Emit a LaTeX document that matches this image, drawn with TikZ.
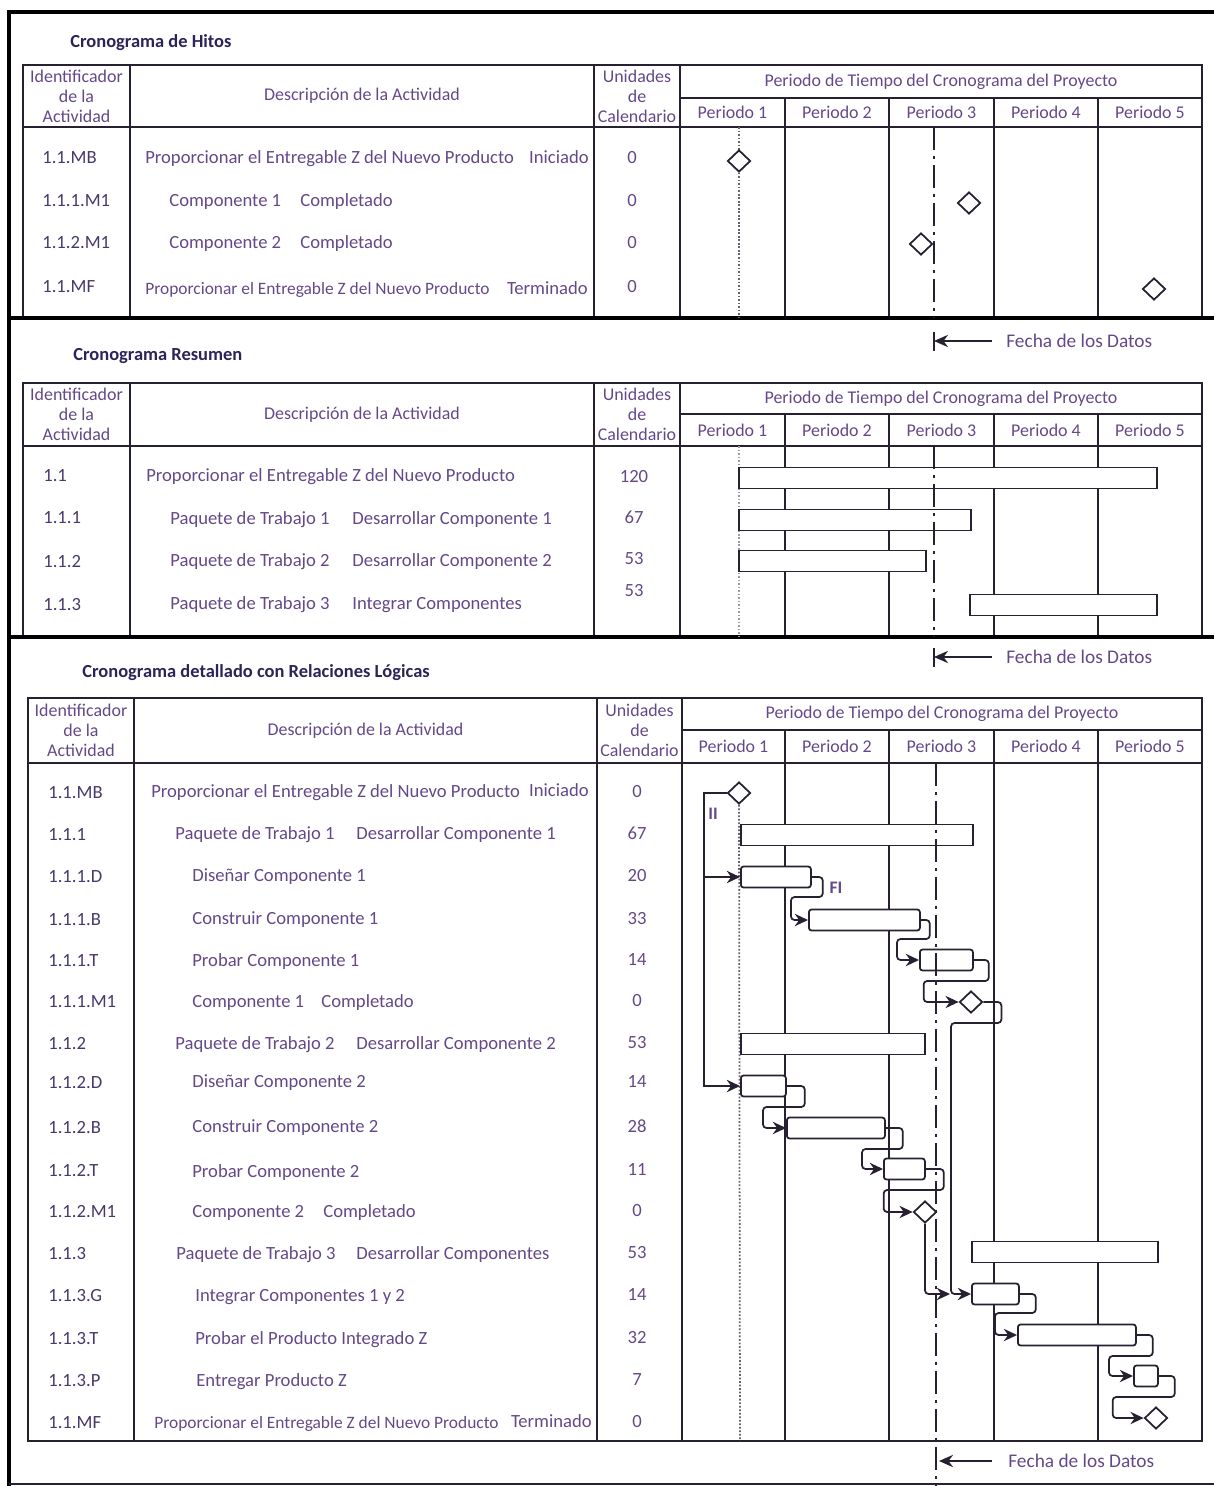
\documentclass[tikz,border=0pt]{standalone}
\usepackage{fontspec}
\setmainfont{Carlito}
\usetikzlibrary{arrows.meta,shapes.geometric,positioning,calc}
\definecolor{tinta}{RGB}{100,72,136}
\definecolor{tintaid}{RGB}{72,56,108}
\definecolor{titulo}{RGB}{42,36,88}
\definecolor{linea}{RGB}{38,32,48}
\tikzset{
	txt/.style={text=tinta, inner sep=0pt, font=\fontsize{10.6}{12.5}\selectfont},
	lin/.style={txt, text height=7.4pt, text depth=2pt},
	ide/.style={lin, text=tintaid, anchor=west},
	des/.style={lin, anchor=west},
	fin/.style={lin, anchor=east},
	uni/.style={lin},
	cab/.style={txt, align=center, font=\fontsize{10.2}{11.3}\selectfont},
	tit/.style={text=titulo, inner sep=0pt, anchor=west, font=\fontsize{10.5}{12}\selectfont\bfseries},
	nota/.style={txt, anchor=west, font=\fontsize{11}{13}\selectfont},
	largo/.style={minimum width=#1*0.02cm},
	barra/.style={draw=linea, line width=1pt, fill=white, inner sep=0pt, minimum height=0.42cm, anchor=west},
	caja/.style={barra, rounded corners=1.5pt},
	hito/.style={diamond, draw=linea, line width=1pt, fill=white, inner sep=0pt, minimum width=0.46cm, minimum height=0.44cm},
	liga/.style={draw=linea, line width=1pt, rounded corners=2pt, -{Stealth[length=7.5pt,width=7pt]}},
	flecha/.style={draw=linea, line width=1pt, -{Stealth[length=8pt,width=7pt]}},
	fecha/.style={draw=linea, line width=1.1pt, dash pattern=on 0.46cm off 0.12cm on 0.06cm off 0.12cm},
	puntos/.style={draw=linea!70, line width=1pt, densely dotted},
	rejilla/.style={draw=linea, line width=1.1pt},
	marco/.style={draw=black, line width=2.8pt}
}
\begin{document}
\begin{tikzpicture}[x=0.02cm,y=-0.02cm]
	\useasboundingbox (0,0) rectangle (1214,1486);
	\foreach \s/\arr/\sep/\hab/\aba/\ca/\cb/\cc/\cd in {1/65/98/127/318/23/130/594/680, 2/383/414/446/637/23/130/594/680, 3/698/730/763/1441/28/134/597/682}{
		\draw[rejilla] (\ca,\arr) rectangle (1202,\aba);
		\draw[rejilla] (\ca,\hab) -- (1202,\hab);
		\draw[rejilla] (\cd,\sep) -- (1202,\sep);
		\foreach \c in {\cb,\cc,\cd} \draw[rejilla] (\c,\arr) -- (\c,\aba);
		\foreach \c in {785,889,994,1098} \draw[rejilla] (\c,\sep) -- (\c,\aba);
		\node[cab] (cid\s) at ({(\ca+\cb)/2},{(\arr+\hab)/2}) {Identificador\\de la\\Actividad};
		\node[cab] (cde\s) at ({(\cb+\cc)/2},{(\arr+\hab)/2}) {Descripción de la Actividad};
		\node[cab] (cun\s) at ({(\cc+\cd)/2},{(\arr+\hab)/2}) {Unidades\\de\\Calendario};
		\node[cab] (cpe\s) at ({(\cd+1202)/2},{(\arr+\sep)/2}) {Periodo de Tiempo del Cronograma del Proyecto};
		\foreach \p/\xa/\xb in {1/\cd/785, 2/785/889, 3/889/994, 4/994/1098, 5/1098/1202}
			\node[cab] (per\s\p) at ({(\xa+\xb)/2},{(\sep+\hab)/2}) {Periodo \p};
	}
	\draw[marco] (1214,12) -- (9,12) -- (9,1486);
	\draw[marco] (9,318) -- (1214,318);
	\draw[marco] (9,637) -- (1214,637);
	\draw[linea, line width=1.4pt] (9,1484) -- (1214,1484);

	\node[tit] (tit1) at (70,43) {Cronograma de Hitos};
	\foreach \i/\y/\id in {1/159/1.1.MB, 2/202/1.1.1.M1, 3/244/1.1.2.M1, 4/288/1.1.MF}{
		\node[ide] (hid\i) at (42,\y) {\id};
		\node[uni] (hun\i) at (632,\y) {0};
	}
	\node[des] (hde1) at (145,159) {Proporcionar el Entregable Z del Nuevo Producto};
	\node[fin] (hfi1) at (589,159) {Iniciado};
	\node[des] (hde2) at (169,202) {Componente 1};
	\node[des] (hfi2) at (300,202) {Completado};
	\node[des] (hde3) at (169,244) {Componente 2};
	\node[des] (hfi3) at (300,244) {Completado};
	\node[des, font=\fontsize{9.9}{11}\selectfont] (hde4) at (145,290) {Proporcionar el Entregable Z del Nuevo Producto};
	\node[fin] (hfi4) at (588,290) {Terminado};
	\draw[puntos] (739,127) -- (739,318);
	\node[hito] (hm1) at (739,161) {};
	\node[hito] (hm2) at (969,203) {};
	\node[hito] (hm3) at (921,244) {};
	\node[hito] (hm4) at (1154,289) {};
	\draw[fecha] (934,127) -- (934,318);
	\node[nota] (fd1) at (1006,341) {Fecha de los Datos};
	\coordinate (fk1) at (934,341);
	\draw[linea, line width=1.2pt] ($(fk1)+(0,-9)$) -- ($(fk1)+(0,10)$);
	\draw[flecha] ($(fd1.west)+(-14,0)$) -- (fk1);

	\node[tit] (tit2) at (73,356) {Cronograma Resumen};
	\foreach \i/\y/\id/\u/\yu in {1/477/1.1/120/478, 2/519/1.1.1/67/519, 3/563/1.1.2/53/560, 4/606/1.1.3/53/592}{
		\node[ide] (rid\i) at (43,\y) {\id};
		\node[uni] (run\i) at (634,\yu) {\u};
	}
	\node[des] (rde1) at (146,477) {Proporcionar el Entregable Z del Nuevo Producto};
	\node[des] (rde2) at (170,520) {Paquete de Trabajo 1};
	\node[des] (rfi2) at (352,520) {Desarrollar Componente 1};
	\node[des] (rde3) at (170,562) {Paquete de Trabajo 2};
	\node[des] (rfi3) at (352,562) {Desarrollar Componente 2};
	\node[des] (rde4) at (170,605) {Paquete de Trabajo 3};
	\node[des] (rfi4) at (352,605) {Integrar Componentes};
	\draw[puntos, draw=linea!45] (739,446) -- (739,637);
	\node[barra, largo=418] (rb1) at (738,478) {};
	\node[barra, largo=232] (rb2) at (738,520) {};
	\node[barra, largo=187] (rb3) at (738,561) {};
	\node[barra, largo=187] (rb4) at (969,605) {};
	\draw[fecha] (934,446) -- (934,637);
	\node[nota] (fd2) at (1006,657) {Fecha de los Datos};
	\coordinate (fk2) at (934,657);
	\draw[linea, line width=1.2pt] ($(fk2)+(0,-9)$) -- ($(fk2)+(0,10)$);
	\draw[flecha] ($(fd2.west)+(-14,0)$) -- (fk2);

	\node[tit] (tit3) at (82,673) {Cronograma detallado con Relaciones Lógicas};
	\foreach \i/\y/\id/\u in {1/794/1.1.MB/0, 2/836/1.1.1/67, 3/878/1.1.1.D/20, 4/921/1.1.1.B/33, 5/962/1.1.1.T/14, 6/1003/1.1.1.M1/0, 7/1045/1.1.2/53, 8/1084/1.1.2.D/14, 9/1129/1.1.2.B/28, 10/1172/1.1.2.T/11, 11/1213/1.1.2.M1/0, 12/1255/1.1.3/53, 13/1297/1.1.3.G/14, 14/1340/1.1.3.T/32, 15/1382/1.1.3.P/7, 16/1424/1.1.MF/0}{
		\node[ide] (did\i) at (48,\y) {\id};
		\node[uni] (dun\i) at (637,{\y-1}) {\u};
	}
	\node[des] (dde1) at (151,793) {Proporcionar el Entregable Z del Nuevo Producto};
	\node[fin] (dfi1) at (589,792) {Iniciado};
	\node[des] (dde2) at (175,835) {Paquete de Trabajo 1};
	\node[des] (dfi2) at (356,835) {Desarrollar Componente 1};
	\node[des] (dde3) at (192,877) {Diseñar Componente 1};
	\node[des] (dde4) at (192,920) {Construir Componente 1};
	\node[des] (dde5) at (192,962) {Probar Componente 1};
	\node[des] (dde6) at (192,1003) {Componente 1};
	\node[des] (dfi6) at (321,1003) {Completado};
	\node[des] (dde7) at (175,1045) {Paquete de Trabajo 2};
	\node[des] (dfi7) at (356,1045) {Desarrollar Componente 2};
	\node[des] (dde8) at (192,1083) {Diseñar Componente 2};
	\node[des] (dde9) at (192,1128) {Construir Componente 2};
	\node[des] (dde10) at (192,1173) {Probar Componente 2};
	\node[des] (dde11) at (192,1213) {Componente 2};
	\node[des] (dfi11) at (323,1213) {Completado};
	\node[des] (dde12) at (176,1255) {Paquete de Trabajo 3};
	\node[des] (dfi12) at (356,1255) {Desarrollar Componentes};
	\node[des] (dde13) at (195,1297) {Integrar Componentes 1 y 2};
	\node[des] (dde14) at (195,1340) {Probar el Producto Integrado Z};
	\node[des] (dde15) at (196,1382) {Entregar Producto Z};
	\node[des, font=\fontsize{9.9}{11}\selectfont] (dde16) at (154,1424) {Proporcionar el Entregable Z del Nuevo Producto};
	\node[fin] (dfi16) at (592,1423) {Terminado};

	\node[hito] (mb) at (739,793) {};
	\draw[puntos] (mb.south) -- (740,1441);
	\node[barra, largo=232] (pt1) at (740,835) {};
	\node[caja, largo=70] (d1) at (740,877) {};
	\node[caja, largo=111] (c1) at (808,920) {};
	\node[caja, largo=53] (p1) at (919,960) {};
	\node[hito] (m1) at (971,1002) {};
	\node[barra, largo=184] (pt2) at (740,1044) {};
	\node[caja, largo=45] (d2) at (740,1086) {};
	\node[caja, largo=98] (c2) at (786,1128) {};
	\node[caja, largo=41] (p2) at (883,1169) {};
	\node[hito] (m2) at (925,1212) {};
	\node[barra, largo=186] (pt3) at (971,1252) {};
	\node[caja, largo=47] (g3) at (971,1294) {};
	\node[caja, largo=118] (p3) at (1017,1335) {};
	\node[caja, largo=24] (e3) at (1133,1376) {};
	\node[hito] (mf) at (1156,1418) {};
	\coordinate (raiz) at (704,1086);
	\coordinate (nudo) at (950,1294);
	\draw[liga, rounded corners=0pt] (mb.west) -| (raiz) -- (d2.west);
	\draw[liga] (raiz |- d1.west) -- (d1.west);
	\node[txt, font=\fontsize{10}{12}\selectfont\bfseries] (ii) at (713,814) {II};
	\node[txt, font=\fontsize{10}{12}\selectfont\bfseries] (fi) at (836,888) {FI};
	\draw[liga] (d1.east) -- ++(11,0) -- ++(0,20) -| ($(c1.west)+(-17,0)$) -- (c1.west);
	\draw[liga] (c1.east) -- ++(9,0) -- ++(0,19) -| ($(p1.west)+(-22,0)$) -- (p1.west);
	\draw[liga] (p1.east) -- ++(15,0) -- ++(0,21) -| ($(m1.west)+(-35,0)$) -- (m1.west);
	\draw[liga] (m1.east) -- ++(18,0) -- ++(0,21) -| ($(g3.west)+(-20,0)$) -- (g3.west);
	\draw[liga] (d2.east) -- ++(18,0) -- ++(0,21) -| ($(c2.west)+(-23,0)$) -- (c2.west);
	\draw[liga] (c2.east) -- ++(17,0) -- ++(0,21) -| ($(p2.west)+(-21,0)$) -- (p2.west);
	\draw[liga] (p2.east) -- ++(18,0) -- ++(0,21) -| ($(m2.west)+(-29,0)$) -- (m2.west);
	\draw[liga] (m2.south) |- (nudo);
	\draw[liga] (g3.east) -- ++(16,0) -- ++(0,19) -| ($(p3.west)+(-22,0)$) -- (p3.west);
	\draw[liga] (p3.east) -- ++(16,0) -- ++(0,21) -| ($(e3.west)+(-24,0)$) -- (e3.west);
	\draw[liga] (e3.east) -- ++(16,0) -- ++(0,21) -| ($(mf.west)+(-31,0)$) -- (mf.west);
	\draw[fecha] (936,763) -- (936,1486);
	\node[nota] (fd3) at (1008,1461) {Fecha de los Datos};
	\coordinate (fk3) at (939,1461);
	\draw[flecha] ($(fd3.west)+(-16,0)$) -- (fk3);
\end{tikzpicture}
\end{document}
